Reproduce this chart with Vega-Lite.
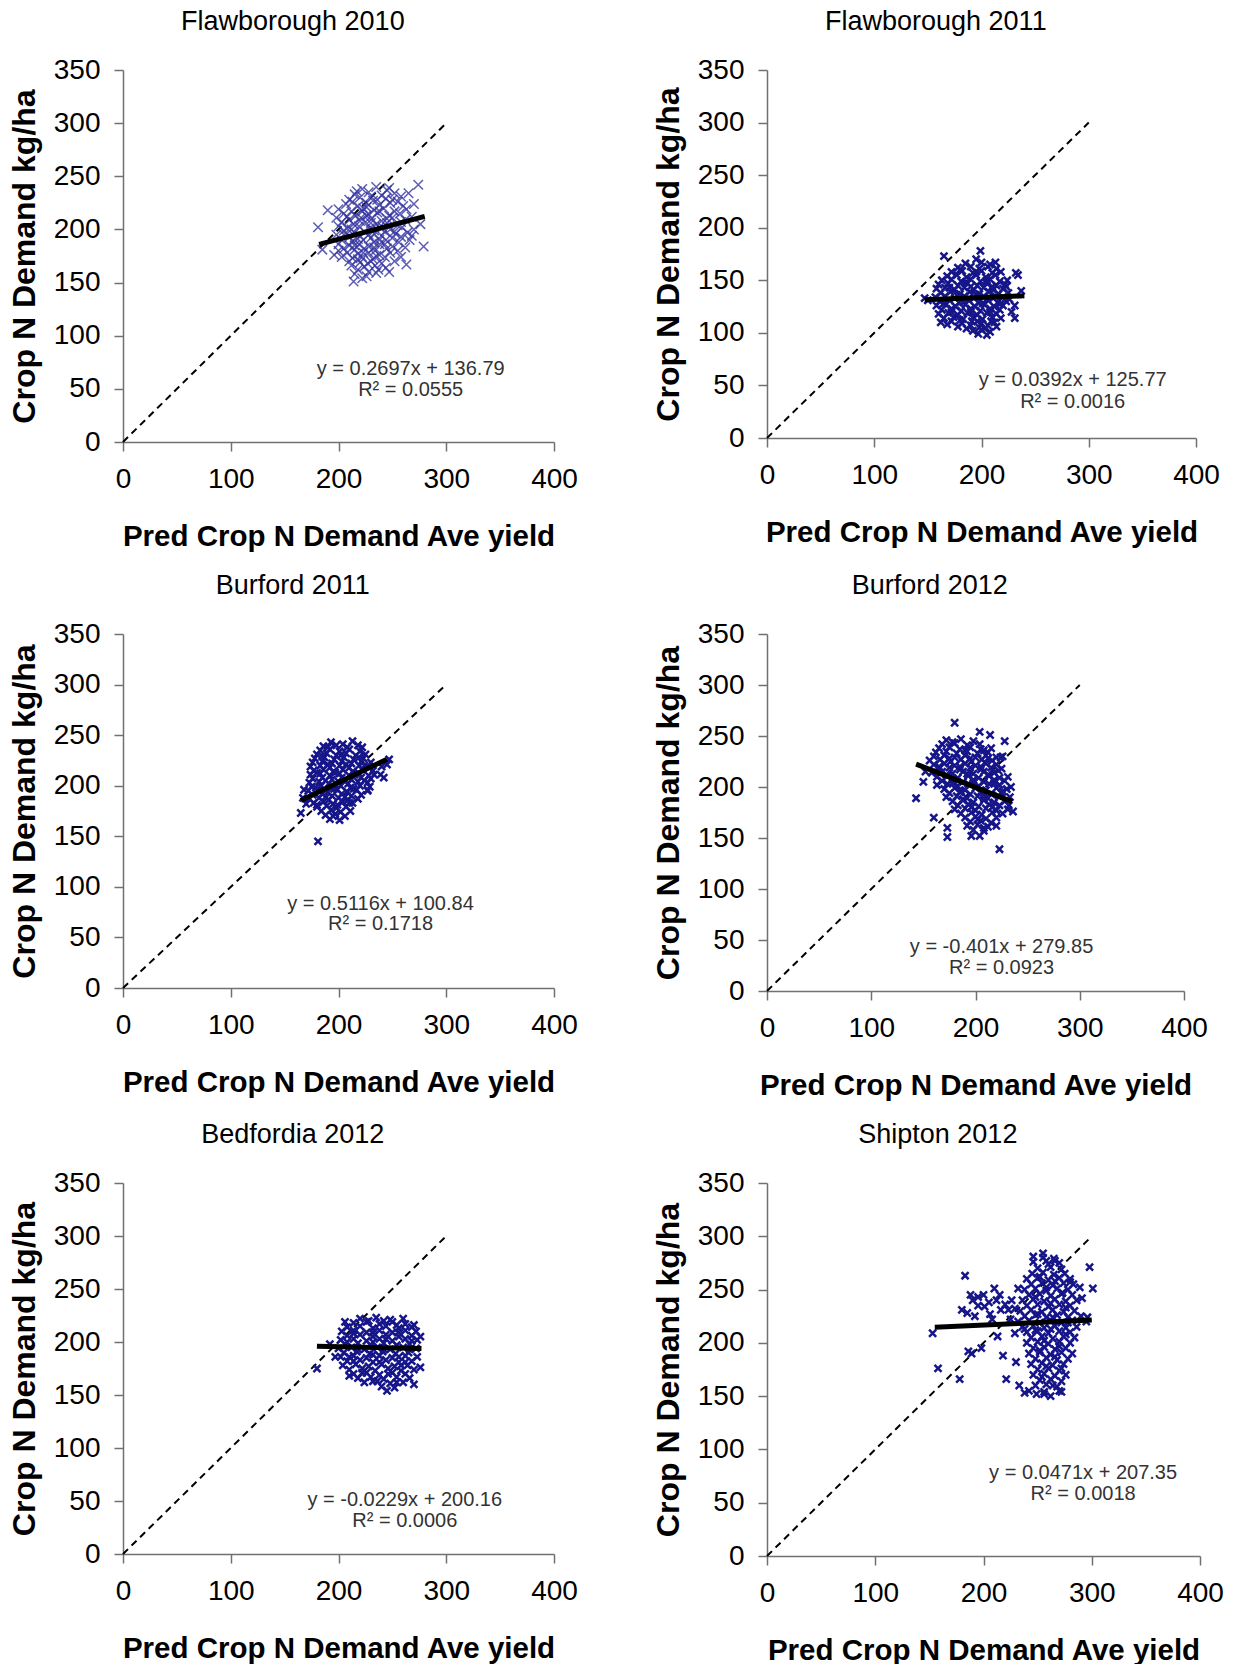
{
"$schema":"https://vega.github.io/schema/vega-lite/v6.json",
"padding":{"left":8,"top":8,"right":0,"bottom":0},
"background":"white",
"datasets":{
"f10":[{"x":222,"y":238},{"x":235,"y":240},{"x":245,"y":237},{"x":215,"y":233},{"x":228,"y":235},{"x":240,"y":232},{"x":252,"y":234},{"x":258,"y":231},{"x":210,"y":228},{"x":220,"y":230},{"x":232,"y":227},{"x":244,"y":229},{"x":255,"y":226},{"x":207,"y":224},{"x":218,"y":222},{"x":226,"y":225},{"x":238,"y":223},{"x":248,"y":225},{"x":260,"y":222},{"x":200,"y":219},{"x":212,"y":217},{"x":223,"y":220},{"x":233,"y":218},{"x":242,"y":220},{"x":252,"y":217},{"x":263,"y":219},{"x":205,"y":215},{"x":216,"y":213},{"x":228,"y":214},{"x":236,"y":216},{"x":247,"y":213},{"x":257,"y":215},{"x":198,"y":211},{"x":210,"y":209},{"x":221,"y":211},{"x":231,"y":210},{"x":240,"y":208},{"x":250,"y":211},{"x":262,"y":209},{"x":268,"y":212},{"x":203,"y":207},{"x":214,"y":205},{"x":225,"y":207},{"x":235,"y":205},{"x":245,"y":206},{"x":255,"y":204},{"x":200,"y":203},{"x":208,"y":201},{"x":219,"y":203},{"x":229,"y":201},{"x":238,"y":202},{"x":248,"y":200},{"x":259,"y":202},{"x":270,"y":200},{"x":205,"y":199},{"x":215,"y":197},{"x":224,"y":198},{"x":233,"y":196},{"x":243,"y":198},{"x":253,"y":196},{"x":264,"y":197},{"x":198,"y":195},{"x":210,"y":193},{"x":220,"y":194},{"x":230,"y":192},{"x":240,"y":194},{"x":250,"y":192},{"x":258,"y":193},{"x":203,"y":190},{"x":213,"y":189},{"x":223,"y":190},{"x":233,"y":188},{"x":244,"y":190},{"x":256,"y":188},{"x":266,"y":190},{"x":200,"y":186},{"x":210,"y":185},{"x":219,"y":186},{"x":228,"y":184},{"x":238,"y":186},{"x":250,"y":184},{"x":205,"y":182},{"x":215,"y":181},{"x":224,"y":182},{"x":234,"y":180},{"x":245,"y":182},{"x":255,"y":180},{"x":208,"y":178},{"x":218,"y":177},{"x":228,"y":178},{"x":238,"y":176},{"x":248,"y":178},{"x":203,"y":174},{"x":213,"y":173},{"x":222,"y":174},{"x":232,"y":172},{"x":243,"y":174},{"x":210,"y":170},{"x":220,"y":169},{"x":230,"y":170},{"x":240,"y":168},{"x":252,"y":170},{"x":212,"y":166},{"x":224,"y":165},{"x":234,"y":166},{"x":244,"y":164},{"x":218,"y":162},{"x":228,"y":160},{"x":237,"y":162},{"x":215,"y":158},{"x":226,"y":156},{"x":181,"y":202},{"x":185,"y":181},{"x":274,"y":242},{"x":279,"y":184},{"x":263,"y":167},{"x":214,"y":151},{"x":265,"y":234},{"x":270,"y":224},{"x":190,"y":218},{"x":196,"y":176},{"x":258,"y":174},{"x":247,"y":160},{"x":276,"y":205},{"x":217,"y":236},{"x":247,"y":239},{"x":230,"y":231},{"x":213,"y":226},{"x":250,"y":228},{"x":226,"y":221},{"x":238,"y":217},{"x":208,"y":212},{"x":226,"y":213},{"x":245,"y":210},{"x":258,"y":207},{"x":212,"y":200},{"x":233,"y":199},{"x":252,"y":198},{"x":218,"y":191},{"x":238,"y":190},{"x":228,"y":195},{"x":215,"y":185},{"x":233,"y":183},{"x":243,"y":186},{"x":223,"y":178},{"x":235,"y":175},{"x":218,"y":172},{"x":227,"y":168},{"x":235,"y":159},{"x":222,"y":154},{"x":205,"y":195},{"x":262,"y":183},{"x":268,"y":194},{"x":200,"y":180},{"x":230,"y":206},{"x":220,"y":208},{"x":241,"y":202},{"x":236,"y":228},{"x":222,"y":217}],
"f11":[{"x":195,"y":170},{"x":185,"y":166},{"x":200,"y":167},{"x":208,"y":165},{"x":178,"y":162},{"x":190,"y":163},{"x":198,"y":161},{"x":206,"y":163},{"x":214,"y":161},{"x":172,"y":158},{"x":182,"y":159},{"x":192,"y":157},{"x":200,"y":159},{"x":210,"y":157},{"x":218,"y":158},{"x":168,"y":154},{"x":177,"y":155},{"x":186,"y":153},{"x":195,"y":155},{"x":204,"y":153},{"x":213,"y":155},{"x":163,"y":150},{"x":172,"y":151},{"x":181,"y":149},{"x":190,"y":151},{"x":199,"y":149},{"x":208,"y":151},{"x":217,"y":149},{"x":224,"y":150},{"x":160,"y":146},{"x":169,"y":147},{"x":178,"y":145},{"x":187,"y":147},{"x":196,"y":145},{"x":205,"y":147},{"x":214,"y":145},{"x":222,"y":146},{"x":158,"y":142},{"x":166,"y":143},{"x":175,"y":141},{"x":184,"y":143},{"x":193,"y":141},{"x":202,"y":143},{"x":211,"y":141},{"x":220,"y":142},{"x":162,"y":138},{"x":171,"y":139},{"x":180,"y":137},{"x":189,"y":139},{"x":198,"y":137},{"x":207,"y":139},{"x":216,"y":137},{"x":225,"y":138},{"x":157,"y":134},{"x":166,"y":135},{"x":175,"y":133},{"x":184,"y":135},{"x":193,"y":133},{"x":202,"y":135},{"x":211,"y":133},{"x":220,"y":134},{"x":161,"y":130},{"x":170,"y":131},{"x":179,"y":129},{"x":188,"y":131},{"x":197,"y":129},{"x":206,"y":131},{"x":215,"y":129},{"x":223,"y":130},{"x":158,"y":126},{"x":167,"y":127},{"x":176,"y":125},{"x":185,"y":127},{"x":194,"y":125},{"x":203,"y":127},{"x":212,"y":125},{"x":220,"y":126},{"x":163,"y":122},{"x":172,"y":123},{"x":181,"y":121},{"x":190,"y":123},{"x":199,"y":121},{"x":208,"y":123},{"x":217,"y":122},{"x":160,"y":118},{"x":169,"y":119},{"x":178,"y":117},{"x":187,"y":119},{"x":196,"y":117},{"x":205,"y":119},{"x":214,"y":118},{"x":165,"y":114},{"x":174,"y":115},{"x":183,"y":113},{"x":192,"y":115},{"x":201,"y":113},{"x":210,"y":115},{"x":218,"y":114},{"x":162,"y":110},{"x":172,"y":111},{"x":182,"y":109},{"x":191,"y":111},{"x":200,"y":109},{"x":209,"y":111},{"x":178,"y":106},{"x":190,"y":107},{"x":198,"y":105},{"x":206,"y":107},{"x":214,"y":106},{"x":192,"y":102},{"x":200,"y":103},{"x":208,"y":101},{"x":197,"y":99},{"x":205,"y":98},{"x":165,"y":173},{"x":199,"y":178},{"x":213,"y":167},{"x":232,"y":157},{"x":234,"y":155},{"x":237,"y":140},{"x":231,"y":126},{"x":231,"y":114},{"x":147,"y":133},{"x":150,"y":131},{"x":226,"y":132},{"x":228,"y":120},{"x":180,"y":160},{"x":195,"y":158},{"x":205,"y":150},{"x":185,"y":148},{"x":170,"y":143},{"x":190,"y":144},{"x":210,"y":144},{"x":177,"y":136},{"x":195,"y":136},{"x":213,"y":135},{"x":165,"y":128},{"x":183,"y":129},{"x":201,"y":128},{"x":218,"y":128},{"x":172,"y":120},{"x":190,"y":120},{"x":208,"y":120},{"x":180,"y":112},{"x":196,"y":111},{"x":212,"y":110},{"x":186,"y":104},{"x":203,"y":104},{"x":168,"y":108},{"x":223,"y":144}],
"b11":[{"x":193,"y":243},{"x":213,"y":244},{"x":186,"y":239},{"x":198,"y":240},{"x":208,"y":238},{"x":218,"y":240},{"x":183,"y":235},{"x":192,"y":236},{"x":201,"y":234},{"x":210,"y":236},{"x":220,"y":234},{"x":180,"y":231},{"x":189,"y":232},{"x":198,"y":230},{"x":207,"y":232},{"x":216,"y":230},{"x":225,"y":231},{"x":178,"y":227},{"x":187,"y":228},{"x":196,"y":226},{"x":205,"y":228},{"x":214,"y":226},{"x":223,"y":227},{"x":176,"y":223},{"x":185,"y":224},{"x":194,"y":222},{"x":203,"y":224},{"x":212,"y":222},{"x":221,"y":224},{"x":230,"y":223},{"x":174,"y":219},{"x":183,"y":220},{"x":192,"y":218},{"x":201,"y":220},{"x":210,"y":218},{"x":219,"y":220},{"x":228,"y":218},{"x":240,"y":219},{"x":177,"y":215},{"x":186,"y":216},{"x":195,"y":214},{"x":204,"y":216},{"x":213,"y":214},{"x":222,"y":216},{"x":232,"y":215},{"x":174,"y":211},{"x":183,"y":212},{"x":192,"y":210},{"x":201,"y":212},{"x":210,"y":210},{"x":219,"y":212},{"x":228,"y":210},{"x":239,"y":211},{"x":176,"y":207},{"x":185,"y":208},{"x":194,"y":206},{"x":203,"y":208},{"x":212,"y":206},{"x":221,"y":208},{"x":230,"y":207},{"x":173,"y":203},{"x":182,"y":204},{"x":191,"y":202},{"x":200,"y":204},{"x":209,"y":202},{"x":218,"y":204},{"x":227,"y":203},{"x":175,"y":199},{"x":184,"y":200},{"x":193,"y":198},{"x":202,"y":200},{"x":211,"y":198},{"x":220,"y":200},{"x":229,"y":199},{"x":172,"y":195},{"x":181,"y":196},{"x":190,"y":194},{"x":199,"y":196},{"x":208,"y":194},{"x":217,"y":196},{"x":227,"y":195},{"x":176,"y":191},{"x":185,"y":192},{"x":194,"y":190},{"x":203,"y":192},{"x":212,"y":190},{"x":221,"y":191},{"x":173,"y":187},{"x":182,"y":188},{"x":191,"y":186},{"x":200,"y":188},{"x":209,"y":186},{"x":218,"y":187},{"x":177,"y":183},{"x":186,"y":184},{"x":195,"y":182},{"x":204,"y":184},{"x":213,"y":183},{"x":180,"y":179},{"x":189,"y":180},{"x":198,"y":178},{"x":207,"y":179},{"x":184,"y":175},{"x":193,"y":176},{"x":202,"y":174},{"x":211,"y":175},{"x":188,"y":171},{"x":197,"y":172},{"x":206,"y":170},{"x":192,"y":167},{"x":201,"y":166},{"x":181,"y":145},{"x":165,"y":173},{"x":167,"y":188},{"x":245,"y":221},{"x":242,"y":208},{"x":227,"y":196},{"x":222,"y":238},{"x":170,"y":182},{"x":168,"y":196},{"x":247,"y":226},{"x":190,"y":238},{"x":204,"y":241},{"x":185,"y":229},{"x":202,"y":230},{"x":219,"y":228},{"x":190,"y":221},{"x":207,"y":221},{"x":224,"y":220},{"x":180,"y":213},{"x":197,"y":213},{"x":215,"y":211},{"x":233,"y":211},{"x":188,"y":205},{"x":206,"y":204},{"x":224,"y":205},{"x":179,"y":198},{"x":196,"y":197},{"x":214,"y":197},{"x":188,"y":189},{"x":206,"y":189},{"x":180,"y":181},{"x":199,"y":181},{"x":195,"y":170},{"x":210,"y":183}],
"b12":[{"x":172,"y":246},{"x":186,"y":247},{"x":198,"y":245},{"x":168,"y":242},{"x":180,"y":243},{"x":192,"y":241},{"x":204,"y":242},{"x":165,"y":238},{"x":175,"y":239},{"x":185,"y":237},{"x":195,"y":239},{"x":205,"y":237},{"x":215,"y":238},{"x":162,"y":234},{"x":172,"y":235},{"x":182,"y":233},{"x":192,"y":235},{"x":202,"y":233},{"x":212,"y":234},{"x":160,"y":230},{"x":170,"y":231},{"x":180,"y":229},{"x":190,"y":231},{"x":200,"y":229},{"x":210,"y":231},{"x":220,"y":229},{"x":226,"y":230},{"x":156,"y":226},{"x":166,"y":227},{"x":176,"y":225},{"x":186,"y":227},{"x":196,"y":225},{"x":206,"y":227},{"x":216,"y":226},{"x":160,"y":222},{"x":170,"y":223},{"x":180,"y":221},{"x":190,"y":223},{"x":200,"y":221},{"x":210,"y":223},{"x":220,"y":222},{"x":165,"y":218},{"x":175,"y":219},{"x":185,"y":217},{"x":195,"y":219},{"x":205,"y":217},{"x":215,"y":219},{"x":225,"y":218},{"x":158,"y":214},{"x":168,"y":215},{"x":178,"y":213},{"x":188,"y":215},{"x":198,"y":213},{"x":208,"y":215},{"x":218,"y":214},{"x":163,"y":210},{"x":173,"y":211},{"x":183,"y":209},{"x":193,"y":211},{"x":203,"y":209},{"x":213,"y":211},{"x":223,"y":209},{"x":231,"y":210},{"x":168,"y":206},{"x":178,"y":207},{"x":188,"y":205},{"x":198,"y":207},{"x":208,"y":205},{"x":218,"y":207},{"x":228,"y":206},{"x":163,"y":202},{"x":173,"y":203},{"x":183,"y":201},{"x":193,"y":203},{"x":203,"y":201},{"x":213,"y":203},{"x":223,"y":202},{"x":170,"y":198},{"x":180,"y":199},{"x":190,"y":197},{"x":200,"y":199},{"x":210,"y":197},{"x":220,"y":199},{"x":230,"y":198},{"x":175,"y":194},{"x":185,"y":195},{"x":195,"y":193},{"x":205,"y":195},{"x":215,"y":193},{"x":225,"y":194},{"x":172,"y":190},{"x":182,"y":191},{"x":192,"y":189},{"x":202,"y":191},{"x":212,"y":189},{"x":222,"y":191},{"x":233,"y":190},{"x":178,"y":186},{"x":188,"y":187},{"x":198,"y":185},{"x":208,"y":187},{"x":218,"y":185},{"x":228,"y":186},{"x":183,"y":182},{"x":193,"y":183},{"x":203,"y":181},{"x":213,"y":183},{"x":223,"y":182},{"x":180,"y":178},{"x":190,"y":179},{"x":200,"y":177},{"x":210,"y":179},{"x":220,"y":177},{"x":231,"y":178},{"x":186,"y":174},{"x":196,"y":175},{"x":206,"y":173},{"x":216,"y":175},{"x":226,"y":174},{"x":190,"y":170},{"x":200,"y":171},{"x":210,"y":169},{"x":220,"y":170},{"x":195,"y":166},{"x":205,"y":167},{"x":215,"y":165},{"x":192,"y":162},{"x":202,"y":163},{"x":212,"y":161},{"x":198,"y":158},{"x":208,"y":157},{"x":180,"y":263},{"x":204,"y":254},{"x":214,"y":251},{"x":143,"y":189},{"x":160,"y":170},{"x":173,"y":160},{"x":173,"y":151},{"x":223,"y":139},{"x":220,"y":162},{"x":232,"y":182},{"x":224,"y":229},{"x":196,"y":152},{"x":204,"y":152},{"x":152,"y":215},{"x":150,"y":205},{"x":236,"y":176},{"x":228,"y":245},{"x":234,"y":200},{"x":178,"y":244},{"x":190,"y":236},{"x":208,"y":236},{"x":175,"y":228},{"x":195,"y":228},{"x":212,"y":228},{"x":165,"y":220},{"x":185,"y":220},{"x":205,"y":220},{"x":222,"y":216},{"x":172,"y":212},{"x":192,"y":213},{"x":212,"y":212},{"x":178,"y":204},{"x":198,"y":204},{"x":218,"y":204},{"x":186,"y":196},{"x":206,"y":196},{"x":226,"y":196},{"x":188,"y":188},{"x":208,"y":189},{"x":196,"y":180},{"x":216,"y":180},{"x":202,"y":168},{"x":208,"y":160}],
"bed12":[{"x":220,"y":222},{"x":235,"y":223},{"x":248,"y":221},{"x":260,"y":222},{"x":214,"y":218},{"x":226,"y":219},{"x":238,"y":217},{"x":250,"y":219},{"x":262,"y":217},{"x":208,"y":214},{"x":220,"y":215},{"x":232,"y":213},{"x":244,"y":215},{"x":256,"y":213},{"x":268,"y":214},{"x":203,"y":210},{"x":214,"y":211},{"x":226,"y":209},{"x":238,"y":211},{"x":250,"y":209},{"x":262,"y":211},{"x":272,"y":210},{"x":208,"y":206},{"x":220,"y":207},{"x":232,"y":205},{"x":244,"y":207},{"x":256,"y":205},{"x":268,"y":206},{"x":202,"y":202},{"x":214,"y":203},{"x":226,"y":201},{"x":238,"y":203},{"x":250,"y":201},{"x":262,"y":203},{"x":273,"y":202},{"x":206,"y":198},{"x":218,"y":199},{"x":230,"y":197},{"x":242,"y":199},{"x":254,"y":197},{"x":266,"y":198},{"x":200,"y":194},{"x":212,"y":195},{"x":224,"y":193},{"x":236,"y":195},{"x":248,"y":193},{"x":260,"y":195},{"x":272,"y":194},{"x":205,"y":190},{"x":217,"y":191},{"x":229,"y":189},{"x":241,"y":191},{"x":253,"y":189},{"x":265,"y":190},{"x":202,"y":186},{"x":214,"y":187},{"x":226,"y":185},{"x":238,"y":187},{"x":250,"y":185},{"x":262,"y":187},{"x":273,"y":186},{"x":208,"y":182},{"x":220,"y":183},{"x":232,"y":181},{"x":244,"y":183},{"x":256,"y":181},{"x":268,"y":182},{"x":204,"y":178},{"x":216,"y":179},{"x":228,"y":177},{"x":240,"y":179},{"x":252,"y":177},{"x":264,"y":178},{"x":210,"y":174},{"x":222,"y":175},{"x":234,"y":173},{"x":246,"y":175},{"x":258,"y":173},{"x":270,"y":174},{"x":214,"y":170},{"x":226,"y":171},{"x":238,"y":169},{"x":250,"y":171},{"x":262,"y":170},{"x":218,"y":166},{"x":230,"y":167},{"x":242,"y":165},{"x":254,"y":167},{"x":266,"y":166},{"x":224,"y":162},{"x":236,"y":163},{"x":248,"y":161},{"x":260,"y":162},{"x":240,"y":158},{"x":252,"y":157},{"x":180,"y":175},{"x":206,"y":219},{"x":192,"y":198},{"x":276,"y":205},{"x":276,"y":176},{"x":245,"y":154},{"x":270,"y":216},{"x":197,"y":186},{"x":210,"y":168},{"x":270,"y":160},{"x":228,"y":220},{"x":242,"y":220},{"x":254,"y":216},{"x":214,"y":208},{"x":232,"y":209},{"x":256,"y":209},{"x":208,"y":200},{"x":232,"y":200},{"x":244,"y":203},{"x":268,"y":201},{"x":218,"y":193},{"x":242,"y":193},{"x":266,"y":193},{"x":210,"y":186},{"x":232,"y":188},{"x":256,"y":186},{"x":214,"y":182},{"x":238,"y":181},{"x":262,"y":181},{"x":222,"y":171},{"x":246,"y":170},{"x":258,"y":178},{"x":232,"y":163},{"x":254,"y":162}],
"s12":[{"x":255,"y":280},{"x":265,"y":279},{"x":246,"y":276},{"x":258,"y":277},{"x":270,"y":275},{"x":250,"y":270},{"x":262,"y":271},{"x":272,"y":269},{"x":245,"y":265},{"x":255,"y":266},{"x":265,"y":264},{"x":275,"y":265},{"x":240,"y":260},{"x":250,"y":261},{"x":260,"y":259},{"x":270,"y":261},{"x":280,"y":260},{"x":244,"y":255},{"x":254,"y":256},{"x":264,"y":254},{"x":274,"y":256},{"x":283,"y":255},{"x":238,"y":250},{"x":248,"y":251},{"x":258,"y":249},{"x":268,"y":251},{"x":278,"y":250},{"x":242,"y":245},{"x":252,"y":246},{"x":262,"y":244},{"x":272,"y":246},{"x":282,"y":245},{"x":236,"y":240},{"x":246,"y":241},{"x":256,"y":239},{"x":266,"y":241},{"x":276,"y":239},{"x":286,"y":240},{"x":240,"y":235},{"x":250,"y":236},{"x":260,"y":234},{"x":270,"y":236},{"x":280,"y":235},{"x":234,"y":230},{"x":244,"y":231},{"x":254,"y":229},{"x":264,"y":231},{"x":274,"y":229},{"x":284,"y":230},{"x":238,"y":225},{"x":248,"y":226},{"x":258,"y":224},{"x":268,"y":226},{"x":278,"y":224},{"x":290,"y":225},{"x":232,"y":220},{"x":242,"y":221},{"x":252,"y":219},{"x":262,"y":221},{"x":272,"y":219},{"x":282,"y":221},{"x":295,"y":220},{"x":236,"y":215},{"x":246,"y":216},{"x":256,"y":214},{"x":266,"y":216},{"x":276,"y":214},{"x":286,"y":215},{"x":240,"y":210},{"x":250,"y":211},{"x":260,"y":209},{"x":270,"y":211},{"x":280,"y":210},{"x":244,"y":205},{"x":254,"y":206},{"x":264,"y":204},{"x":274,"y":206},{"x":284,"y":205},{"x":240,"y":200},{"x":250,"y":201},{"x":260,"y":199},{"x":270,"y":201},{"x":280,"y":200},{"x":246,"y":195},{"x":256,"y":196},{"x":266,"y":194},{"x":276,"y":195},{"x":242,"y":190},{"x":252,"y":191},{"x":262,"y":189},{"x":272,"y":191},{"x":282,"y":190},{"x":248,"y":185},{"x":258,"y":186},{"x":268,"y":184},{"x":278,"y":185},{"x":244,"y":180},{"x":254,"y":181},{"x":264,"y":179},{"x":274,"y":180},{"x":250,"y":175},{"x":260,"y":176},{"x":270,"y":174},{"x":246,"y":170},{"x":256,"y":171},{"x":266,"y":169},{"x":276,"y":170},{"x":252,"y":165},{"x":262,"y":166},{"x":272,"y":164},{"x":248,"y":160},{"x":258,"y":161},{"x":268,"y":159},{"x":242,"y":155},{"x":256,"y":154},{"x":270,"y":155},{"x":153,"y":209},{"x":158,"y":176},{"x":178,"y":166},{"x":183,"y":263},{"x":180,"y":231},{"x":189,"y":190},{"x":198,"y":195},{"x":195,"y":235},{"x":195,"y":243},{"x":210,"y":251},{"x":218,"y":188},{"x":230,"y":182},{"x":221,"y":166},{"x":232,"y":251},{"x":246,"y":281},{"x":255,"y":284},{"x":266,"y":277},{"x":298,"y":271},{"x":301,"y":251},{"x":289,"y":252},{"x":280,"y":257},{"x":213,"y":206},{"x":229,"y":209},{"x":238,"y":213},{"x":206,"y":227},{"x":216,"y":231},{"x":223,"y":231},{"x":229,"y":232},{"x":201,"y":234},{"x":190,"y":240},{"x":200,"y":245},{"x":205,"y":238},{"x":212,"y":240},{"x":220,"y":236},{"x":226,"y":240},{"x":185,"y":228},{"x":192,"y":225},{"x":208,"y":222},{"x":225,"y":222},{"x":296,"y":224},{"x":291,"y":242},{"x":233,"y":160},{"x":238,"y":153},{"x":256,"y":152},{"x":272,"y":154},{"x":186,"y":192},{"x":215,"y":245},{"x":188,"y":245},{"x":260,"y":274},{"x":252,"y":262},{"x":266,"y":258},{"x":258,"y":252},{"x":273,"y":247},{"x":248,"y":243},{"x":262,"y":237},{"x":276,"y":233},{"x":250,"y":227},{"x":264,"y":224},{"x":278,"y":219},{"x":248,"y":212},{"x":262,"y":213},{"x":276,"y":208},{"x":256,"y":202},{"x":270,"y":197},{"x":252,"y":193},{"x":266,"y":187},{"x":258,"y":178},{"x":272,"y":176},{"x":254,"y":168},{"x":264,"y":160},{"x":262,"y":150},{"x":249,"y":152}]
},
"align":"each",
"columns":2,
"spacing":{"row":21,"column":74},
"concat":[
{"title":"Flawborough 2010","width":431,"height":372,
 "encoding":{"x":{"field":"x","type":"quantitative","scale":{"domain":[0,400]},"axis":{"values":[0,100,200,300,400],"title":"Pred Crop N Demand Ave yield"}},"y":{"field":"y","type":"quantitative","scale":{"domain":[0,350]},"axis":{"values":[0,50,100,150,200,250,300,350],"title":"Crop N Demand kg/ha"}}},
 "layer":[
  {"data":{"values":[{"x":0,"y":0},{"x":300,"y":300}]},"mark":{"type":"line","color":"#000","strokeWidth":2,"strokeDash":[7,5]},"encoding":{}},
  {"data":{"name":"f10"},"mark":{"type":"point","shape":"M-1,-1L1,1M1,-1L-1,1","filled":false,"color":"#3535a2","strokeWidth":1.5,"size":90,"opacity":0.8}},
  {"data":{"values":[{"x":182,"y":185.9},{"x":280,"y":212.3}]},"mark":{"type":"line","color":"#000","strokeWidth":5},"encoding":{}},
  {"data":{"values":[{"x":267,"y":68.7,"t":"y = 0.2697x  + 136.79"},{"x":267,"y":48.9,"t":"R² = 0.0555"}]},"mark":{"type":"text","font":"Liberation Sans","fontSize":20,"color":"#333"},"encoding":{"text":{"field":"t"}}}
 ]},
{"title":"Flawborough 2011","width":429,"height":368,
 "encoding":{"x":{"field":"x","type":"quantitative","scale":{"domain":[0,400]},"axis":{"values":[0,100,200,300,400],"title":"Pred Crop N Demand Ave yield"}},"y":{"field":"y","type":"quantitative","scale":{"domain":[0,350]},"axis":{"values":[0,50,100,150,200,250,300,350],"title":"Crop N Demand kg/ha"}}},
 "layer":[
  {"data":{"values":[{"x":0,"y":0},{"x":300,"y":300}]},"mark":{"type":"line","color":"#000","strokeWidth":2,"strokeDash":[7,5]},"encoding":{}},
  {"data":{"name":"f11"},"mark":{"type":"point","shape":"M-1,-1L1,1M1,-1L-1,1","filled":false,"color":"#16168a","strokeWidth":2.5,"size":50,"opacity":1}},
  {"data":{"values":[{"x":147,"y":131.5},{"x":240,"y":135.2}]},"mark":{"type":"line","color":"#000","strokeWidth":5},"encoding":{}},
  {"data":{"values":[{"x":285,"y":55.2,"t":"y = 0.0392x  + 125.77"},{"x":285,"y":34.2,"t":"R² = 0.0016"}]},"mark":{"type":"text","font":"Liberation Sans","fontSize":20,"color":"#333"},"encoding":{"text":{"field":"t"}}}
 ]},
{"title":"Burford 2011","width":431,"height":354,
 "encoding":{"x":{"field":"x","type":"quantitative","scale":{"domain":[0,400]},"axis":{"values":[0,100,200,300,400],"title":"Pred Crop N Demand Ave yield"}},"y":{"field":"y","type":"quantitative","scale":{"domain":[0,350]},"axis":{"values":[0,50,100,150,200,250,300,350],"title":"Crop N Demand kg/ha"}}},
 "layer":[
  {"data":{"values":[{"x":0,"y":0},{"x":300,"y":300}]},"mark":{"type":"line","color":"#000","strokeWidth":2,"strokeDash":[7,5]},"encoding":{}},
  {"data":{"name":"b11"},"mark":{"type":"point","shape":"M-1,-1L1,1M1,-1L-1,1","filled":false,"color":"#16168a","strokeWidth":2.5,"size":50,"opacity":1}},
  {"data":{"values":[{"x":165,"y":185.3},{"x":245,"y":226.2}]},"mark":{"type":"line","color":"#000","strokeWidth":5},"encoding":{}},
  {"data":{"values":[{"x":239,"y":83,"t":"y = 0.5116x  + 100.84"},{"x":239,"y":63.3,"t":"R² = 0.1718"}]},"mark":{"type":"text","font":"Liberation Sans","fontSize":20,"color":"#333"},"encoding":{"text":{"field":"t"}}}
 ]},
{"title":"Burford 2012","width":417,"height":357,
 "encoding":{"x":{"field":"x","type":"quantitative","scale":{"domain":[0,400]},"axis":{"values":[0,100,200,300,400],"title":"Pred Crop N Demand Ave yield"}},"y":{"field":"y","type":"quantitative","scale":{"domain":[0,350]},"axis":{"values":[0,50,100,150,200,250,300,350],"title":"Crop N Demand kg/ha"}}},
 "layer":[
  {"data":{"values":[{"x":0,"y":0},{"x":300,"y":300}]},"mark":{"type":"line","color":"#000","strokeWidth":2,"strokeDash":[7,5]},"encoding":{}},
  {"data":{"name":"b12"},"mark":{"type":"point","shape":"M-1,-1L1,1M1,-1L-1,1","filled":false,"color":"#16168a","strokeWidth":2.5,"size":50,"opacity":1}},
  {"data":{"values":[{"x":143,"y":222.5},{"x":235,"y":185.6}]},"mark":{"type":"line","color":"#000","strokeWidth":5},"encoding":{}},
  {"data":{"values":[{"x":225,"y":43.5,"t":"y = -0.401x  + 279.85"},{"x":225,"y":22.7,"t":"R² = 0.0923"}]},"mark":{"type":"text","font":"Liberation Sans","fontSize":20,"color":"#333"},"encoding":{"text":{"field":"t"}}}
 ]},
{"title":"Bedfordia 2012","width":431,"height":371,
 "encoding":{"x":{"field":"x","type":"quantitative","scale":{"domain":[0,400]},"axis":{"values":[0,100,200,300,400],"title":"Pred Crop N Demand Ave yield"}},"y":{"field":"y","type":"quantitative","scale":{"domain":[0,350]},"axis":{"values":[0,50,100,150,200,250,300,350],"title":"Crop N Demand kg/ha"}}},
 "layer":[
  {"data":{"values":[{"x":0,"y":0},{"x":300,"y":300}]},"mark":{"type":"line","color":"#000","strokeWidth":2,"strokeDash":[7,5]},"encoding":{}},
  {"data":{"name":"bed12"},"mark":{"type":"point","shape":"M-1,-1L1,1M1,-1L-1,1","filled":false,"color":"#16168a","strokeWidth":2.5,"size":50,"opacity":1}},
  {"data":{"values":[{"x":180,"y":196.0},{"x":277,"y":193.8}]},"mark":{"type":"line","color":"#000","strokeWidth":5},"encoding":{}},
  {"data":{"values":[{"x":261.5,"y":50.7,"t":"y = -0.0229x  + 200.16"},{"x":261.5,"y":30.7,"t":"R² = 0.0006"}]},"mark":{"type":"text","font":"Liberation Sans","fontSize":20,"color":"#333"},"encoding":{"text":{"field":"t"}}}
 ]},
{"title":"Shipton 2012","width":433,"height":373,
 "encoding":{"x":{"field":"x","type":"quantitative","scale":{"domain":[0,400]},"axis":{"values":[0,100,200,300,400],"title":"Pred Crop N Demand Ave yield"}},"y":{"field":"y","type":"quantitative","scale":{"domain":[0,350]},"axis":{"values":[0,50,100,150,200,250,300,350],"title":"Crop N Demand kg/ha"}}},
 "layer":[
  {"data":{"values":[{"x":0,"y":0},{"x":300,"y":300}]},"mark":{"type":"line","color":"#000","strokeWidth":2,"strokeDash":[7,5]},"encoding":{}},
  {"data":{"name":"s12"},"mark":{"type":"point","shape":"M-1,-1L1,1M1,-1L-1,1","filled":false,"color":"#16168a","strokeWidth":2.5,"size":50,"opacity":1}},
  {"data":{"values":[{"x":155,"y":214.6},{"x":300,"y":221.5}]},"mark":{"type":"line","color":"#000","strokeWidth":5},"encoding":{}},
  {"data":{"values":[{"x":292,"y":78.2,"t":"y = 0.0471x  + 207.35"},{"x":292,"y":58.3,"t":"R² = 0.0018"}]},"mark":{"type":"text","font":"Liberation Sans","fontSize":20,"color":"#333"},"encoding":{"text":{"field":"t"}}}
 ]}
],
"config":{
 "view":{"stroke":null},
 "font":"Liberation Sans",
 "axis":{"grid":false,"domainColor":"#707070","domainWidth":1.5,"tickColor":"#707070","tickWidth":1.5,"tickSize":9,"labelFont":"Liberation Sans","labelFontSize":28,"labelColor":"#000","labelPadding":14,"labelFlush":false,"labelOverlap":false,"titleFont":"Liberation Sans","titleFontSize":29.5,"titleFontWeight":"bold","titleColor":"#000"},
 "axisX":{"titlePadding":29},
 "axisY":{"titlePadding":12,"titleFontSize":32},
 "title":{"font":"Liberation Sans","fontSize":27,"fontWeight":"normal","color":"#000","offset":20,"frame":"bounds"}
}
}
